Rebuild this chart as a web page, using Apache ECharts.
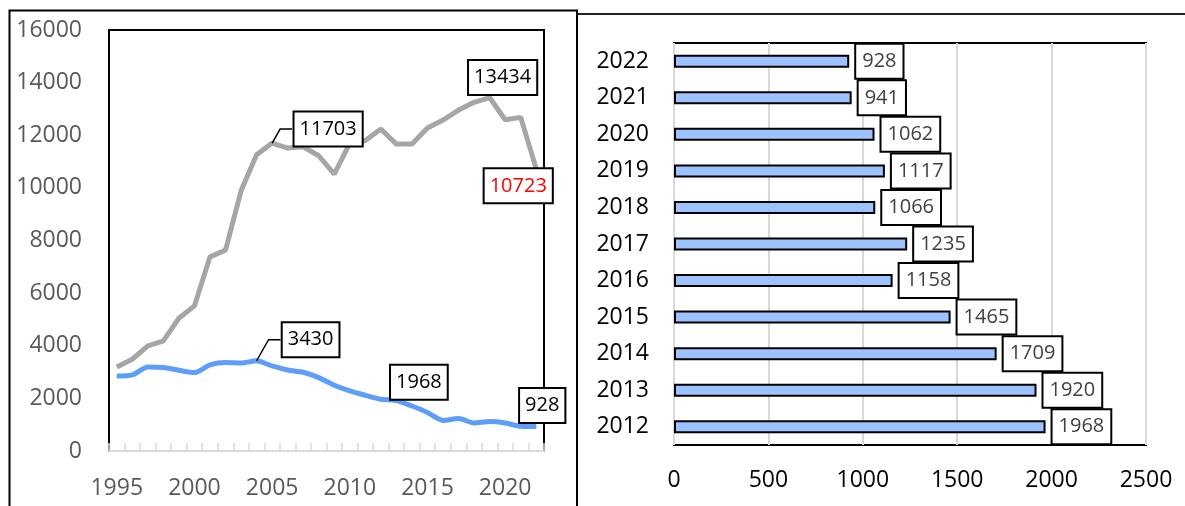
<!DOCTYPE html>
<html>
<head>
<meta charset="utf-8">
<script src="https://cdn.jsdelivr.net/npm/echarts@6/dist/echarts.min.js"></script>
<style>
html,body{margin:0;padding:0;background:#fff;}
#chart{width:1185px;height:506px;}
</style>
</head>
<body>
<div id="chart"></div>
<script>
// ---------- data ----------
const years = ['1995','1996','1997','1998','1999','2000','2001','2002','2003','2004','2005','2006','2007','2008','2009','2010','2011','2012','2013','2014','2015','2016','2017','2018','2019','2020','2021','2022'];
const grayValues = [3195,3487,3994,4184,5047,5515,7379,7634,9890,11259,11703,11513,11563,11221,10524,11700,11800,12236,11664,11664,12273,12577,12957,13250,13434,12590,12680,10723];
const blueValues = [2850,2891,3195,3170,3068,2980,3271,3360,3340,3430,3233,3081,2993,2789,2497,2282,2117,1968,1920,1709,1465,1158,1235,1066,1117,1062,941,928];
const leftYTicks = [0,2000,4000,6000,8000,10000,12000,14000,16000];

const barYears = ['2012','2013','2014','2015','2016','2017','2018','2019','2020','2021','2022'];
const barValues = [1968,1920,1709,1465,1158,1235,1066,1117,1062,941,928];
const rightXTicks = [0,500,1000,1500,2000,2500];

// labelled points on left chart
const grayLabelYears = ['2005','2019','2022'];
const blueLabelYears = ['2004','2012','2022'];

// ---------- styles ----------
const FONT = 'Open Sans';
const labelOffsets = {
  gray: {'2005':[56,-14], '2019':[13,-20], '2022':[-18,17]},
  blue: {'2004':[54,-21], '2012':[38,-17], '2022':[6,-21]}
};
const labelColors = {gray: {'2022':'#FF0000'}, blue:{}};
const leaderYears = {gray:['2005'], blue:['2004']};
const plain = v => String(v);

function boxLabel(color, offset){
  return {
    show: true, position: 'inside', offset: offset,
    formatter: '{c}', color: color, fontFamily: FONT, fontSize: 20,
    lineHeight: 27, padding: [3,5,3,5],
    backgroundColor: '#fff', borderColor: '#000', borderWidth: 2
  };
}
function buildData(key, values, labelYears){
  return values.map((v,i)=>{
    const y = years[i];
    if (labelYears.indexOf(y) >= 0) {
      return {value: v, symbol: 'circle', symbolSize: 1,
        label: boxLabel(labelColors[key][y] || '#000', labelOffsets[key][y])};
    }
    return {value: v};
  });
}

const chart = echarts.init(document.getElementById('chart'), null, {renderer:'canvas'});

const option = {
  animation: false,
  grid: [
    {left:109, top:30, width:435, height:421, show:true, borderColor:'#000', borderWidth:2, backgroundColor:'transparent'},
    {left:674, top:43, width:472, height:402, show:true, borderColor:'#000', borderWidth:2, backgroundColor:'transparent'}
  ],
  xAxis: [
    {type:'category', gridIndex:0, data: years, boundaryGap:true,
     axisLine:{show:true, lineStyle:{color:'#D9D9D9', width:2}},
     axisTick:{show:true, inside:true, length:8, interval:0, lineStyle:{color:'#D9D9D9', width:1.5}},
     axisLabel:{interval:4, color:'#595959', fontFamily:FONT, fontSize:23, margin:26},
     splitLine:{show:false}},
    {type:'value', gridIndex:1, min: rightXTicks[0], max: rightXTicks[rightXTicks.length-1], interval:500,
     axisLine:{show:false}, axisTick:{show:false},
     axisLabel:{color:'#000', fontFamily:FONT, fontSize:23, margin:24, formatter: plain},
     splitLine:{show:true, lineStyle:{color:'#D9D9D9', width:2}}}
  ],
  yAxis: [
    {type:'value', gridIndex:0, min: leftYTicks[0], max: leftYTicks[leftYTicks.length-1], interval:2000,
     axisLine:{show:false}, axisTick:{show:false}, splitLine:{show:false},
     axisLabel:{color:'#595959', fontFamily:FONT, fontSize:23, margin:27, formatter: plain}},
    {type:'category', gridIndex:1, data: barYears,
     axisLine:{show:false}, axisTick:{show:false}, splitLine:{show:false},
     axisLabel:{color:'#000', fontFamily:FONT, fontSize:23, margin:25}}
  ],
  series: [
    {type:'line', xAxisIndex:0, yAxisIndex:0, data: buildData('gray', grayValues, grayLabelYears),
     symbol:'none', showAllSymbol:true, lineStyle:{color:'#A6A6A6', width:5}, itemStyle:{color:'#A6A6A6'}, z:2},
    {type:'line', xAxisIndex:0, yAxisIndex:0, data: buildData('blue', blueValues, blueLabelYears),
     symbol:'none', showAllSymbol:true, smooth:0.25, lineStyle:{color:'#5F9EF8', width:5}, itemStyle:{color:'#5F9EF8'}, z:3},
    {type:'bar', xAxisIndex:1, yAxisIndex:1, data: barValues, barWidth:13,
     itemStyle:{color:'#9CC3FF', borderColor:'#000', borderWidth:2},
     label:{show:true, position:'right', distance:7, formatter:'{c}', color:'#404040', fontFamily:FONT, fontSize:20,
       lineHeight:27, padding:[3,6,3,6], backgroundColor:'#fff', borderColor:'#000', borderWidth:2}}
  ]
};
chart.setOption(option);

// frames and leader lines
const graphics = [
  {type:'polyline', shape:{points:[[9.5,506],[9.5,10.5],[577,10.5],[577,506]]}, style:{stroke:'#000', lineWidth:2, fill:null}, silent:true},
  {type:'line', shape:{x1:577, y1:14, x2:1185, y2:14}, style:{stroke:'#222', lineWidth:2}, silent:true}
];
function leader(values, y, dx, dy){
  const i = years.indexOf(y);
  const p = chart.convertToPixel({xAxisIndex:0, yAxisIndex:0}, [y, values[i]]);
  return {type:'polyline', shape:{points:[[p[0],p[1]],[p[0]+dx,p[1]+dy],[p[0]+dx+12,p[1]+dy]]},
    style:{stroke:'#000', lineWidth:1.5, fill:null}, z:10, silent:true};
}
graphics.push(leader(grayValues, leaderYears.gray[0], 8, -14));
graphics.push(leader(blueValues, leaderYears.blue[0], 12, -21));
chart.setOption({graphic: graphics});
</script>
</body>
</html>
